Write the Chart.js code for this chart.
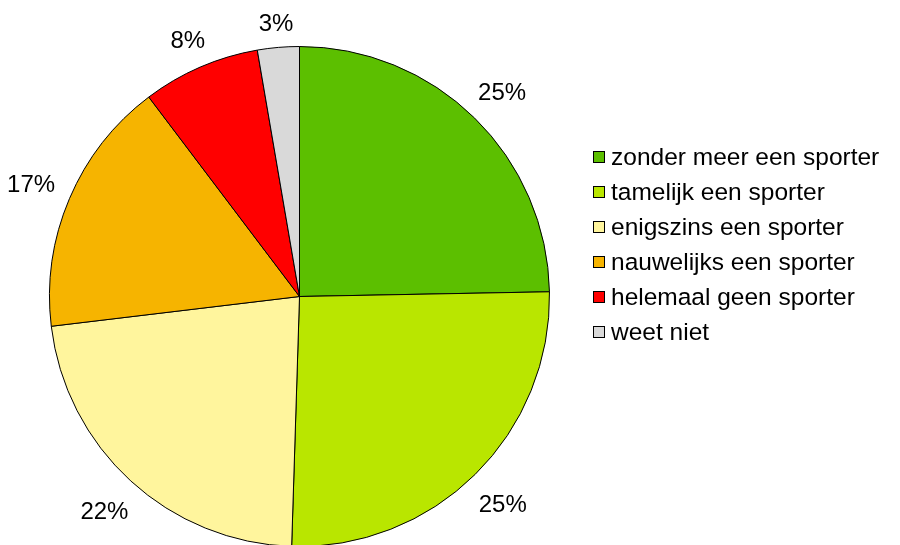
<!DOCTYPE html>
<html>
<head>
<meta charset="utf-8">
<script src="https://cdn.jsdelivr.net/npm/chart.js@4/dist/chart.umd.min.js"></script>
<style>
  html, body { margin: 0; padding: 0; background: #fff; width: 900px; height: 545px; overflow: hidden; }
  canvas { display: block; }
</style>
</head>
<body>
<canvas id="c" width="900" height="560"></canvas>
<script>
const categories = [
  'zonder meer een sporter',
  'tamelijk een sporter',
  'enigszins een sporter',
  'nauwelijks een sporter',
  'helemaal geen sporter',
  'weet niet'
];
const values = [24.7, 25.8, 22.6, 16.6, 7.6, 2.7];
const valueLabels = ['25%', '25%', '22%', '17%', '8%', '3%'];
const sliceColors = ['#5cbf00', '#b9e600', '#fff59d', '#f6b400', '#ff0000', '#d9d9d9'];

const FONT = '"Liberation Sans", Arial, Helvetica, sans-serif';

const outerLabels = {
  id: 'outerLabels',
  afterDatasetsDraw(chart) {
    const ctx = chart.ctx;
    const meta = chart.getDatasetMeta(0);
    ctx.save();
    ctx.font = '24px ' + FONT;
    ctx.fillStyle = '#000';
    ctx.textAlign = 'center';
    ctx.textBaseline = 'middle';
    const gap = 16;
    meta.data.forEach((arc, i) => {
      const p = arc.getProps(['x', 'y', 'startAngle', 'endAngle', 'outerRadius'], true);
      const mid = (p.startAngle + p.endAngle) / 2;
      const dx = Math.cos(mid), dy = Math.sin(mid);
      const txt = valueLabels[i];
      const hw = ctx.measureText(txt).width / 2;
      const hh = 9;
      const ext = Math.abs(dx) * hw + Math.abs(dy) * hh;
      const d = p.outerRadius + gap + ext;
      ctx.fillText(txt, p.x + dx * d, p.y + dy * d + 3);
    });
    ctx.restore();
  }
};

const sideLegend = {
  id: 'sideLegend',
  afterDraw(chart) {
    const ctx = chart.ctx;
    const x0 = chart.chartArea.right + 43;
    const y0 = 157;
    const step = 35;
    const box = 12;
    ctx.save();
    ctx.font = '24.5px ' + FONT;
    ctx.textAlign = 'left';
    ctx.textBaseline = 'middle';
    categories.forEach((name, i) => {
      const cy = y0 + i * step;
      ctx.fillStyle = sliceColors[i];
      ctx.fillRect(x0, cy - box / 2, box, box);
      ctx.strokeStyle = '#000';
      ctx.lineWidth = 1;
      ctx.strokeRect(x0 + 0.5, cy - box / 2 + 0.5, box - 1, box - 1);
      ctx.fillStyle = '#000';
      ctx.fillText(name, x0 + box + 6, cy + 1);
    });
    ctx.restore();
  }
};

new Chart(document.getElementById('c'), {
  type: 'pie',
  data: {
    labels: categories,
    datasets: [{
      data: values,
      backgroundColor: sliceColors,
      borderColor: '#000',
      borderWidth: 1
    }]
  },
  options: {
    responsive: false,
    animation: false,
    devicePixelRatio: 1,
    layout: { padding: { left: 49, right: 350, top: 46, bottom: 13 } },
    plugins: {
      legend: { display: false },
      tooltip: { enabled: false }
    }
  },
  plugins: [outerLabels, sideLegend]
});
</script>
</body>
</html>
